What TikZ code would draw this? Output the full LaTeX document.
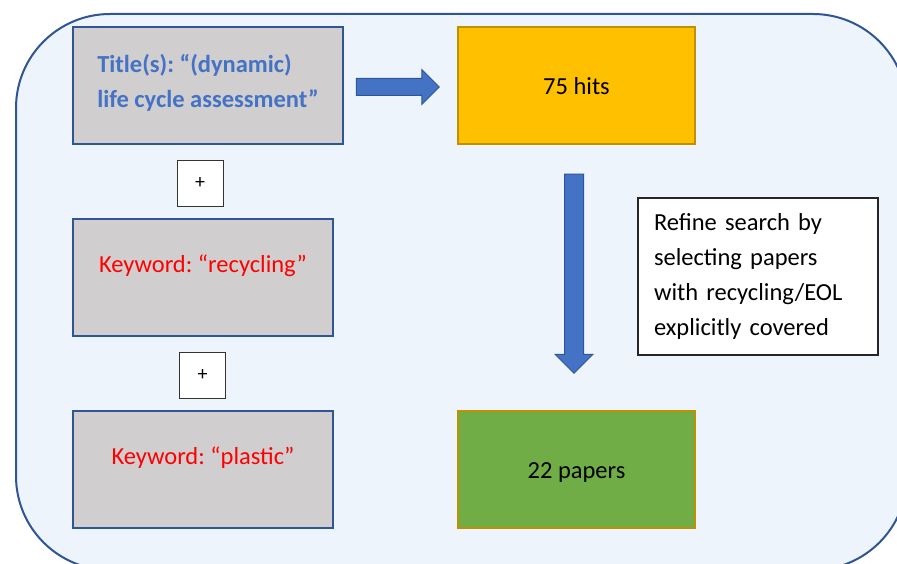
\documentclass[tikz,border=0pt]{standalone}
\usepackage{fontspec}
\setmainfont{Carlito}
\usepackage{tikz}
\usetikzlibrary{shapes.arrows}

\definecolor{panelfill}{HTML}{EEF4FB}
\definecolor{darkblue}{HTML}{2F5597}
\definecolor{boxgray}{HTML}{D0CECE}
\definecolor{titleblue}{HTML}{4472C4}
\definecolor{hitsyellow}{HTML}{FFC000}
\definecolor{paperswgreen}{HTML}{70AD47}
\definecolor{goldline}{HTML}{BF9000}

\frenchspacing

\begin{document}
\begin{tikzpicture}[x=1bp, y=-1bp]
    \tikzset{
        every node/.style={font=\fontsize{24.5bp}{35bp}\selectfont, inner sep=0pt},
        graybox/.style={draw=darkblue, line width=2bp, fill=boxgray,
            minimum height=117bp},
        keyword/.style={graybox, minimum width=260bp, text=red,
            text height=17bp, text depth=28bp},
        plusbox/.style={draw=black!80, line width=0.9bp, fill=white,
            minimum width=46bp, minimum height=46bp,
            font=\fontsize{20bp}{24bp}\selectfont},
        result/.style={draw=goldline, line width=1.5bp,
            minimum width=237bp, minimum height=117bp,
            text height=23bp, text depth=5bp},
        blockarrow/.style={single arrow, draw=darkblue, line width=1bp,
            fill=titleblue, single arrow tip angle=90, minimum width=0pt}
    }

    \useasboundingbox (0, 0) rectangle (897, 564);
    \clip (0, 0) rectangle (897, 564);

    % Draw the panel
    \draw[darkblue, line width=2bp, fill=panelfill, rounded corners=94bp]
        (16, 14) rectangle (907, 570);

    % Search terms
    \node[graybox, minimum width=270bp, align=left, text depth=10bp,
        text=titleblue, font=\fontsize{24.5bp}{35bp}\selectfont\bfseries]
        (title) at (208, 85.5) {Title(s): “(dynamic)\\life cycle assessment”};
    \node[plusbox] (plusA) at (200, 183) {+};
    \node[keyword] (recycling) at (203, 277.5) {Keyword: “recycling”};
    \node[plusbox] (plusB) at (202.5, 375) {+};
    \node[keyword] (plastic) at (203, 469.5) {Keyword: “plastic”};

    % Results
    \node[result, fill=hitsyellow] (hits) at (576.5, 85.5) {75 hits};
    \node[result, fill=paperswgreen] (papers) at (576.5, 469.5) {22 papers};

    \node[draw=black!85, line width=1.2bp, fill=white, text=black,
        minimum width=240bp, minimum height=157bp, text width=208bp,
        align=left] (refine) at (758, 276.5)
        {Refine search by\\selecting papers\\with recycling/EOL\\explicitly covered};

    % Draw the block arrows
    \node[blockarrow, inner xsep=0pt, inner ysep=8bp,
        single arrow head extend=9bp, minimum height=83bp]
        (toHits) at (393.5, 87) {};
    \node[blockarrow, inner xsep=9bp, inner ysep=0pt,
        single arrow head extend=9.5bp, minimum height=199bp,
        shape border rotate=270] (toPapers) at (574, 269) {};
\end{tikzpicture}
\end{document}
